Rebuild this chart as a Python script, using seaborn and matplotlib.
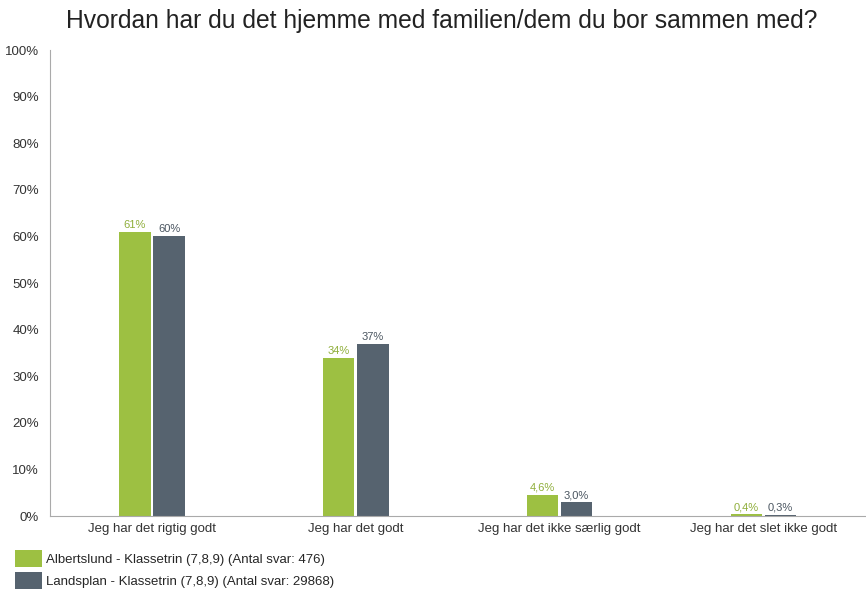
import pandas as pd
import matplotlib
matplotlib.use('Agg')
import matplotlib.pyplot as plt
import seaborn as sns
from matplotlib.patches import Patch

# data
categories = ['Jeg har det rigtig godt', 'Jeg har det godt',
              'Jeg har det ikke særlig godt', 'Jeg har det slet ikke godt']
series = ['Albertslund - Klassetrin (7,8,9) (Antal svar: 476)',
          'Landsplan - Klassetrin (7,8,9) (Antal svar: 29868)']
albertslund = [61, 34, 4.6, 0.4]
landsplan = [60, 37, 3.0, 0.3]
albertslund_labels = ['61%', '34%', '4,6%', '0,4%']
landsplan_labels = ['60%', '37%', '3,0%', '0,3%']

green = '#9dc042'
grey = '#56636f'

df = pd.DataFrame({
    'kategori': categories * 2,
    'serie': [series[0]] * 4 + [series[1]] * 4,
    'andel': albertslund + landsplan,
})

sns.set_style('white')
plt.rcParams['font.family'] = ['Liberation Sans', 'DejaVu Sans']

fig = plt.figure(figsize=(8.66, 5.96), dpi=100)
ax = fig.add_axes([0.058, 0.134, 0.941, 0.782])

sns.barplot(data=df, x='kategori', y='andel', hue='serie', order=categories,
            hue_order=series, palette=[green, grey], width=0.335, gap=0.08,
            saturation=1, linewidth=0, ax=ax, legend=False)

ax.bar_label(ax.containers[0], labels=albertslund_labels, fontsize=8,
             color='#8fae3a', padding=1.5)
ax.bar_label(ax.containers[1], labels=landsplan_labels, fontsize=8,
             color='#4a5560', padding=1.5)

ax.set_ylim(0, 100)
ax.set_xlim(-0.5, 3.5)
ax.set_yticks(range(0, 101, 10))
ax.set_yticklabels([f'{v}%' for v in range(0, 101, 10)])
ax.tick_params(axis='both', length=0, labelsize=9.5, colors='#333333')
ax.tick_params(axis='y', pad=8)
ax.tick_params(axis='x', pad=5)
ax.set_xlabel('')
ax.set_ylabel('')

sns.despine(ax=ax)
ax.spines['left'].set_color('#aaaaaa')
ax.spines['bottom'].set_color('#aaaaaa')

fig.suptitle('Hvordan har du det hjemme med familien/dem du bor sammen med?',
             x=0.51, y=0.985, fontsize=17.7, color='#222222')

handles = [Patch(facecolor=green, edgecolor='none'),
           Patch(facecolor=grey, edgecolor='none')]
fig.legend(handles, series, loc='upper left', bbox_to_anchor=(0.017, 0.077),
           frameon=False, fontsize=9.5, handlelength=2.1, handleheight=1.6,
           handletextpad=0.25, labelspacing=0.38, borderaxespad=0, borderpad=0)

fig.savefig('out.png', dpi=100)
